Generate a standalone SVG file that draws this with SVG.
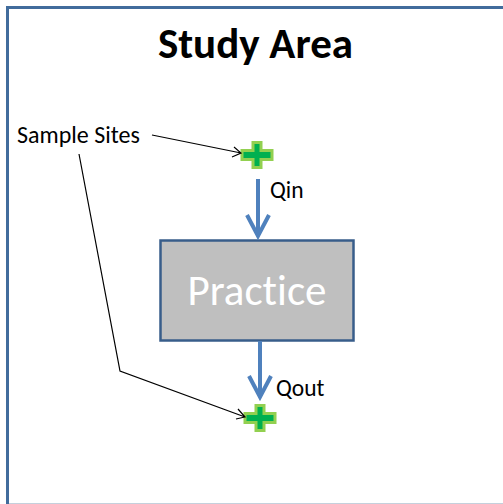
<svg xmlns="http://www.w3.org/2000/svg" width="503" height="504" viewBox="0 0 503 504">
<defs>
<style>
text{font-family:"Carlito","Liberation Sans",Arial,sans-serif;font-variant-ligatures:none}
.lbl{font-size:24px;fill:#000}
.q{font-size:23.500px;fill:#000}
.flow{fill:none;stroke:#4f81bd;stroke-width:4}
.lead{fill:none;stroke:#000;stroke-width:1.2}
.plus{fill:#00b050;stroke:#92d050;stroke-width:3}
.frame{fill:none;stroke:#416c9c;stroke-width:3}
</style>
</defs>
<rect width="503" height="504" fill="#fff"/>
<g id="study-area">
<path d="M8 503.500H503" fill="none" stroke="#c5d0dc" stroke-width="1"/>
<path class="frame" d="M7.500 504V7.500H503"/>
<text id="title" x="255.500" y="58" text-anchor="middle" font-size="43" font-weight="700" fill="#000">Study Area</text>
</g>
<g id="practice">
<rect x="160.500" y="240.500" width="193" height="100" fill="#bfbfbf" stroke="#385d8a" stroke-width="2.500"/>
<text x="257" y="305" text-anchor="middle" font-size="43" fill="#fff">Practice</text>
</g>
<g id="site-in"><path class="plus" d="M253 142.500h8v8h11v9h-11v8h-8v-8h-11v-9h11z"/></g>
<g id="site-out"><path class="plus" d="M256 405.500h8v8h11v9h-11v8h-8v-8h-11v-9h11z"/></g>
<g id="sample-sites"><text class="lbl" x="17" y="143">Sample Sites</text></g>
<g id="connectors">
<path class="flow" d="M258 179V235M247 215L258 236L269 215"/>
<path class="flow" d="M260 341V395M249 376L260 397L271 376"/>
<path class="lead" d="M152 135L241 153M234 147L241 153L232 157"/>
<path class="lead" d="M79 154L120 371L245 417M238 409L245 417L236 419"/>
</g>
<text class="q" x="270" y="198">Qin</text>
<text class="q" x="276" y="396">Qout</text>
</svg>
